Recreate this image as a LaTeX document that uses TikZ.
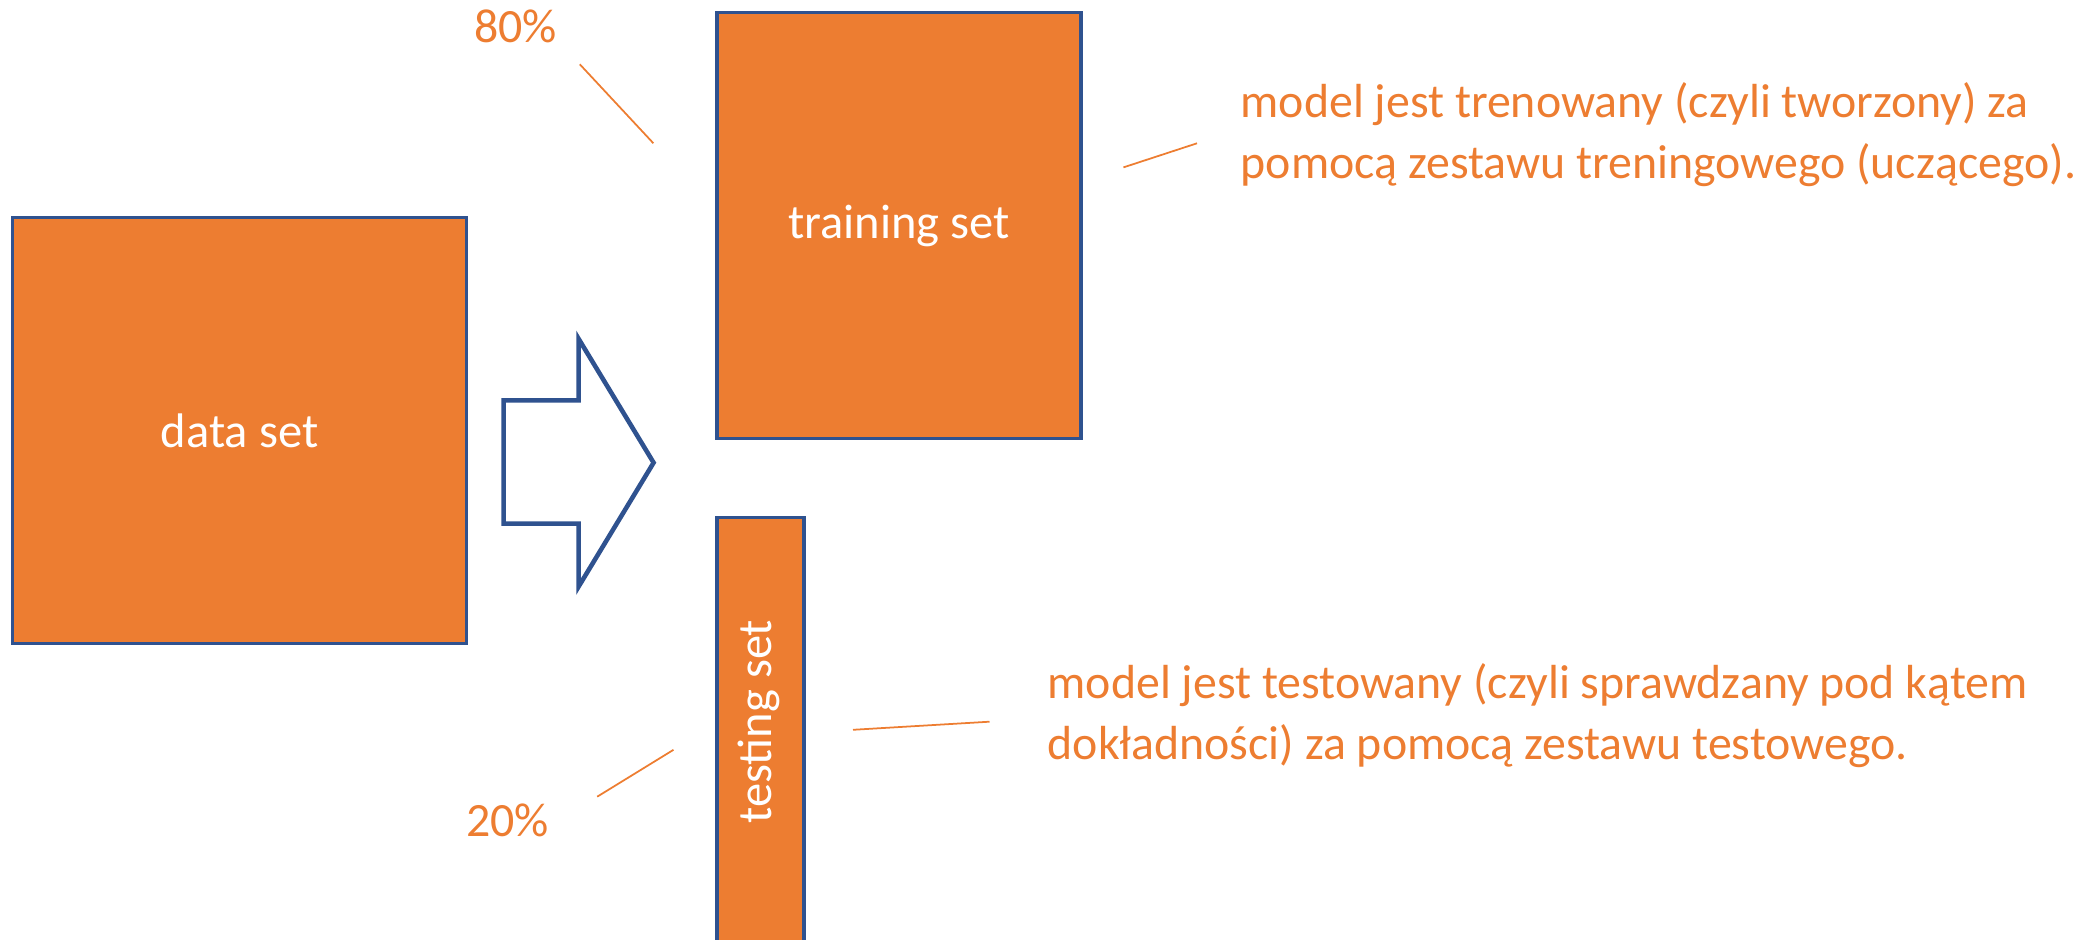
\documentclass[tikz,border=0pt]{standalone}
\usepackage{fontspec}
\setmainfont{Carlito}
\usepackage{tikz}
\usetikzlibrary{positioning}
\definecolor{setorange}{RGB}{237,125,49}
\definecolor{setblue}{RGB}{47,82,143}
\tikzset{
  setbox/.style={
    draw=setblue, line width=1pt, fill=setorange, text=white,
    font=\fontsize{13.8}{16}\selectfont, inner sep=0pt, anchor=north west
  },
  note/.style={
    text=setorange, font=\fontsize{13.6}{17.3}\selectfont, align=left, inner sep=0pt
  },
  lead/.style={setorange, line width=0.5pt}
}

\begin{document}
\begin{tikzpicture}[x=0.01cm, y=-0.01cm]
  \useasboundingbox (0,0) rectangle (2100,940);
  \node[setbox, minimum width=4.54cm, minimum height=4.26cm] (data) at (10.7,215.6) {data set};
  \node[setbox, minimum width=3.64cm, minimum height=4.26cm] (train) at (715,10.7) {training set};
  \node[setbox, minimum width=0.87cm, minimum height=4.3cm] (test) at (715,515.5) {};
  \node[text=white, font=\fontsize{13.8}{16}\selectfont, rotate=90, inner sep=0pt] (testlbl) at (758.5,721.7) {testing set};

  % block arrow between the sets
  \draw[setblue, line width=1.3pt, fill=white, line join=miter]
    (503.6,400.4) -- (578.6,400.4) -- (578.6,338.8) -- (653.6,462.7)
    -- (578.6,586.6) -- (578.6,523.6) -- (503.6,523.6) -- cycle;

  \node[note] (p80) at (515.5,26.8) {80\%};
  \node[note] (p20) at (507.5,820.8) {20\%};
  \node[note, anchor=west] (trainnote) at (1240,134.5) {model jest trenowany (czyli tworzony) za\\pomocą zestawu treningowego (uczącego).};
  \node[note, anchor=west] (testnote) at (1047,715.5) {model jest testowany (czyli sprawdzany pod kątem\\dokładności) za pomocą zestawu testowego.};

  \coordinate (l80a) at (579.8,64.3);
  \coordinate (l80b) at (653.4,143.3);
  \coordinate (l20a) at (597.2,796.7);
  \coordinate (l20b) at (673.5,749.8);
  \coordinate (ltra) at (1123.4,167.4);
  \coordinate (ltrb) at (1197,143.3);
  \coordinate (ltea) at (853,729.8);
  \coordinate (lteb) at (989.5,721.7);
  \draw[lead] (l80a) -- (l80b);
  \draw[lead] (l20a) -- (l20b);
  \draw[lead] (ltra) -- (ltrb);
  \draw[lead] (ltea) -- (lteb);
\end{tikzpicture}
\end{document}
